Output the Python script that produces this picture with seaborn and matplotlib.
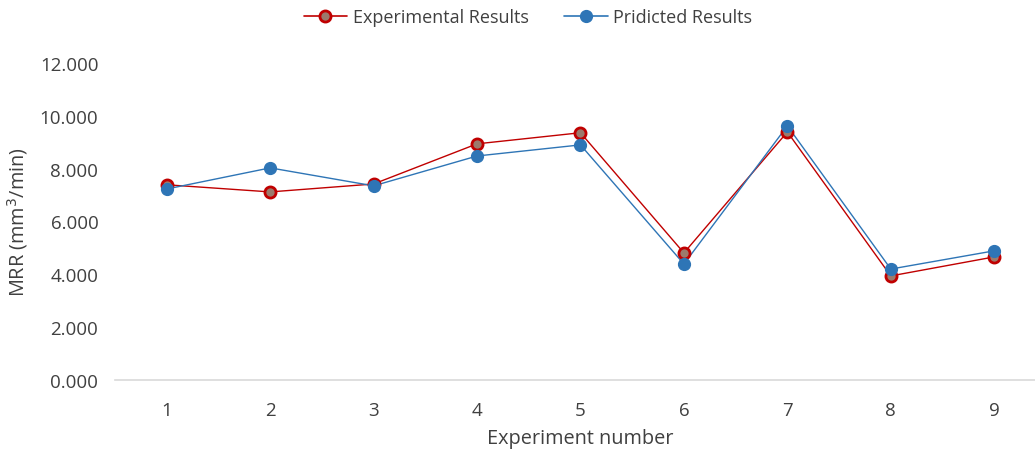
import matplotlib
matplotlib.use("Agg")
import matplotlib.pyplot as plt
from matplotlib.ticker import FuncFormatter
from matplotlib.lines import Line2D
import seaborn as sns
import pandas as pd

# data
experiments = [1, 2, 3, 4, 5, 6, 7, 8, 9]
experimental = [7.39, 7.12, 7.42, 8.94, 9.36, 4.81, 9.39, 3.94, 4.66]
predicted = [7.23, 8.03, 7.35, 8.48, 8.90, 4.39, 9.62, 4.20, 4.89]
series_names = ["Experimental Results", "Pridicted Results"]

df = pd.DataFrame({
    "exp": experiments * 2,
    "mrr": experimental + predicted,
    "series": [series_names[0]] * 9 + [series_names[1]] * 9,
})

sns.set_style("white")
plt.rcParams["font.family"] = ["Open Sans", "DejaVu Sans"]
txt = "#404040"

fig = plt.figure(figsize=(10.35, 4.56), dpi=100)
ax = fig.add_axes([115 / 1035, 1 - 381 / 456, 1 - 115 / 1035, (381 - 64) / 456])

pal = {series_names[0]: "#c00000", series_names[1]: "#2e75b6"}
sns.lineplot(data=df, x="exp", y="mrr", hue="series", palette=pal, ax=ax,
             linewidth=1.0, legend=False, sort=False)
# markers drawn separately to get the Excel look
e = df[df.series == series_names[0]]
p = df[df.series == series_names[1]]
ax.plot(e.exp, e.mrr, "o", ms=8, mfc="#9c7a6c", mec="#c00000", mew=2, zorder=3)
ax.plot(p.exp, p.mrr, "o", ms=8.5, mfc="#2e75b6", mec="#2e75b6", zorder=4)

ax.set_xlim(0.5, 9.394)
ax.set_ylim(0, 12)
ax.set_xticks(experiments)
ax.set_yticks([0, 2, 4, 6, 8, 10, 12])
ax.yaxis.set_major_formatter(FuncFormatter(lambda v, _: f"{v:.3f}"))
ax.tick_params(length=0, labelsize=13.5, colors=txt)
ax.tick_params(axis="x", pad=15)
ax.tick_params(axis="y", pad=12)
for s in ["top", "right", "left"]:
    ax.spines[s].set_visible(False)
ax.spines["bottom"].set_color("#d9d9d9")
ax.spines["bottom"].set_linewidth(1.2)
ax.set_xlabel("Experiment number", fontsize=14.3, color=txt)
ax.set_ylabel("MRR (mm$^3$/min)", fontsize=14.3, color=txt, labelpad=7)
ax.xaxis.set_label_coords((580 - 115) / 920, -(429 - 381) / 317)

handles = [
    Line2D([], [], color="#c00000", lw=1.2, marker="o", ms=8, mfc="#9c7a6c", mec="#c00000", mew=2),
    Line2D([], [], color="#2e75b6", lw=1.2, marker="o", ms=8.5, mfc="#2e75b6", mec="#2e75b6"),
]
leg = fig.legend(handles, series_names, loc="center", bbox_to_anchor=(528 / 1035, 1 - 18 / 456),
                 ncol=2, frameon=False, fontsize=13, handlelength=2.4, columnspacing=2.0,
                 handletextpad=0.3)
for t in leg.get_texts():
    t.set_color(txt)

fig.savefig("out.png", dpi=100)
